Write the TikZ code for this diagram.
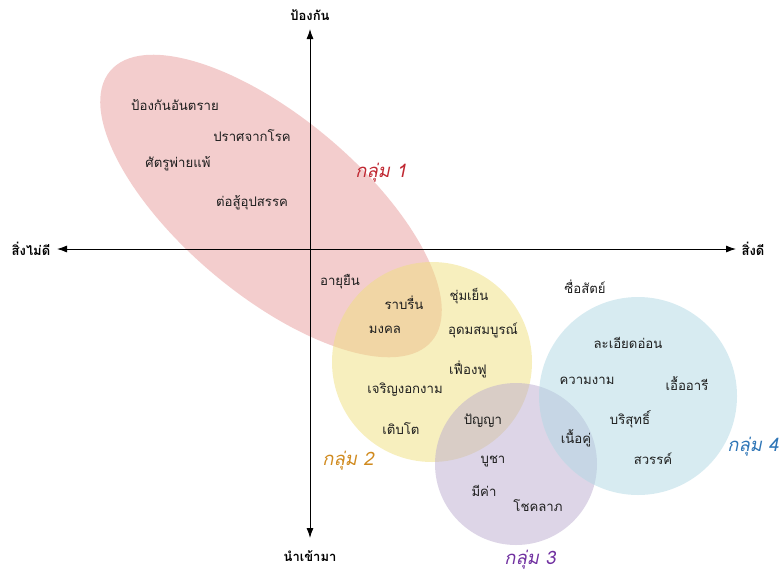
\documentclass[tikz,border=0pt]{standalone}
\usepackage{fontspec}
\newfontfamily\thaifont[Script=Thai]{Loma}
\newfontfamily\thaislant[Script=Thai,FakeSlant=0.2]{Loma}
\usetikzlibrary{arrows.meta,shapes.geometric}
\definecolor{pinkbase}{RGB}{231,156,156}
\definecolor{yellowbase}{RGB}{239,223,125}
\definecolor{purplebase}{RGB}{187,172,207}
\definecolor{bluebase}{RGB}{175,216,228}
\definecolor{gone}{RGB}{192,40,50}
\definecolor{gtwo}{RGB}{208,138,30}
\definecolor{gthree}{RGB}{112,48,160}
\definecolor{gfour}{RGB}{46,117,182}
\definecolor{txt}{RGB}{30,30,30}
\begin{document}
\begin{tikzpicture}[x=1pt,y=-1pt,
  word/.style={font=\thaifont\fontsize{13.2}{15}\selectfont, text=txt, inner sep=0pt},
  axislabel/.style={font=\thaifont\bfseries\fontsize{13}{15}\selectfont, text=black, inner sep=0pt},
  grouplabel/.style={font=\thaislant\fontsize{18.5}{21}\selectfont, inner sep=0pt},
  blob/.style={draw=none, fill opacity=0.5, inner sep=0pt},
  axisline/.style={line width=0.9pt, -{Latex[length=10pt,width=7pt]}}]
\useasboundingbox (0,0) rectangle (783,573);
% groups
\node[blob, ellipse, fill=pinkbase, minimum width=420, minimum height=178, rotate=-40] (g1) at (271,206) {};
\node[blob, circle, fill=yellowbase, minimum size=200] (g2) at (432,362) {};
\node[blob, circle, fill=purplebase, minimum size=162] (g3) at (516,464) {};
\node[blob, circle, fill=bluebase, minimum size=198] (g4) at (638,396) {};
% axes
\coordinate (o) at (310,249);
\coordinate (ytop) at (310,29);
\coordinate (ybot) at (310,538);
\coordinate (xleft) at (57,249);
\coordinate (xright) at (736,249);
\draw[axisline] (o) -- (ytop);
\draw[axisline] (o) -- (ybot);
\draw[axisline] (o) -- (xleft);
\draw[axisline] (o) -- (xright);
\node[axislabel] (lt) at (310,15) {ป้องกัน};
\node[axislabel] (lb) at (310,556) {นำเข้ามา};
\node[axislabel] (ll) at (31,249) {สิ่งไม่ดี};
\node[axislabel] (lr) at (753,249) {สิ่งดี};
% group labels
\node[grouplabel, text=gone] (n1) at (381,173) {กลุ่ม 1};
\node[grouplabel, text=gtwo] (n2) at (348,461) {กลุ่ม 2};
\node[grouplabel, text=gthree] (n3) at (530,560) {กลุ่ม 3};
\node[grouplabel, text=gfour] (n4) at (753,447) {กลุ่ม 4};
% words
\node[word] (w1) at (175,105) {ป้องกันอันตราย};
\node[word] (w2) at (252,136) {ปราศจากโรค};
\node[word] (w3) at (178,164) {ศัตรูพ่ายแพ้};
\node[word] (w4) at (252,203) {ต่อสู้อุปสรรค};
\node[word] (w5) at (340,282) {อายุยืน};
\node[word] (w6) at (404,303) {ราบรื่น};
\node[word] (w7) at (469,296) {ชุ่มเย็น};
\node[word] (w8) at (385,330) {มงคล};
\node[word] (w9) at (483,330) {อุดมสมบูรณ์};
\node[word] (w10) at (468,369) {เฟื่องฟู};
\node[word] (w11) at (405,390) {เจริญงอกงาม};
\node[word] (w12) at (401,429) {เติบโต};
\node[word] (w13) at (483,421) {ปัญญา};
\node[word] (w14) at (576,438) {เนื้อคู่};
\node[word] (w15) at (493,461) {บูชา};
\node[word] (w16) at (484,491) {มีค่า};
\node[word] (w17) at (538,506) {โชคลาภ};
\node[word] (w18) at (585,287) {ซื่อสัตย์};
\node[word] (w19) at (628,343) {ละเอียดอ่อน};
\node[word] (w20) at (587,381) {ความงาม};
\node[word] (w21) at (687,384) {เอื้ออารี};
\node[word] (w22) at (630,419) {บริสุทธิ์};
\node[word] (w23) at (653,459) {สวรรค์};
\end{tikzpicture}
\end{document}
